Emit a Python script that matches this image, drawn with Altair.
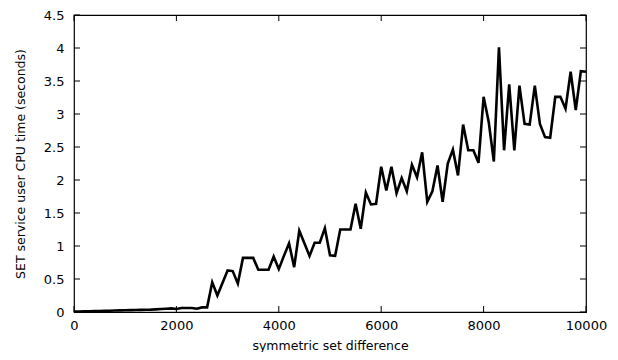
import altair as alt
import pandas as pd

x_vals = list(range(0, 10001, 100))
y_vals = [
    0.005, 0.008, 0.010, 0.012, 0.014, 0.016, 0.018, 0.020, 0.022, 0.024,
    0.026, 0.028, 0.030, 0.032, 0.034, 0.036, 0.040, 0.045, 0.050, 0.055,
    0.045, 0.060, 0.060, 0.060, 0.050, 0.070, 0.070,
    0.45, 0.25, 0.44, 0.63, 0.62, 0.43, 0.82, 0.82, 0.82, 0.64,
    0.64, 0.64, 0.84, 0.65, 0.85, 1.04, 0.68, 1.23, 1.04, 0.85,
    1.05, 1.05, 1.27, 0.86, 0.85, 1.25, 1.25, 1.25, 1.64, 1.26,
    1.81, 1.63, 1.64, 2.20, 1.84, 2.20, 1.80, 2.03, 1.83, 2.23,
    2.04, 2.42, 1.67, 1.83, 2.22, 1.67, 2.25, 2.46, 2.07, 2.84,
    2.45, 2.45, 2.26, 3.26, 2.88, 2.28, 4.01, 2.45, 3.45, 2.45,
    3.43, 2.85, 2.84, 3.43, 2.85, 2.65, 2.64, 3.26, 3.26, 3.08,
    3.64, 3.06, 3.65, 3.64,
]
x_ticks = [0, 2000, 4000, 6000, 8000, 10000]
y_ticks = [0, 0.5, 1, 1.5, 2, 2.5, 3, 3.5, 4, 4.5]

W, H = 512, 297
FONT = "DejaVu Sans"

df = pd.DataFrame({"x": x_vals, "y": y_vals})
xt = pd.DataFrame({"x": x_ticks})
yt = pd.DataFrame({"y": y_ticks})

xscale = alt.Scale(domain=[0, 10000], nice=False, zero=False)
yscale = alt.Scale(domain=[0, 4.5], nice=False, zero=False)
xaxis = alt.Axis(values=x_ticks, title="symmetric set difference", format="d",
                 labelPadding=7, titlePadding=7, labelFlush=False, labelOverlap=False)
yaxis = alt.Axis(values=y_ticks, title="SET service user CPU time (seconds)", format="~g",
                 labelPadding=10, titlePadding=16, labelFlush=False, labelOverlap=False)

line = alt.Chart(df).mark_line(color="black", strokeWidth=2.6, strokeJoin="miter").encode(
    x=alt.X("x:Q", scale=xscale, axis=xaxis),
    y=alt.Y("y:Q", scale=yscale, axis=yaxis),
)

tick_len = 6
bx = alt.Chart(xt).mark_rule(color="black", strokeWidth=1).encode(
    x=alt.X("x:Q", scale=xscale, axis=xaxis), y=alt.value(H), y2=alt.value(H - tick_len))
tx = alt.Chart(xt).mark_rule(color="black", strokeWidth=1).encode(
    x=alt.X("x:Q", scale=xscale, axis=xaxis), y=alt.value(0), y2=alt.value(tick_len))
ly = alt.Chart(yt).mark_rule(color="black", strokeWidth=1).encode(
    y=alt.Y("y:Q", scale=yscale, axis=yaxis), x=alt.value(0), x2=alt.value(tick_len))
ry = alt.Chart(yt).mark_rule(color="black", strokeWidth=1).encode(
    y=alt.Y("y:Q", scale=yscale, axis=yaxis), x=alt.value(W), x2=alt.value(W - tick_len))

chart = alt.layer(line, bx, tx, ly, ry).properties(
    width=W, height=H,
    autosize=alt.AutoSizeParams(type="none"),
    padding={"left": 66, "top": 7, "right": 24, "bottom": 40},
).configure_view(
    stroke="black", strokeWidth=1.2
).configure_axis(
    domain=False, ticks=False, grid=False,
    labelFont=FONT, titleFont=FONT, labelFontSize=13, titleFontSize=12.5,
    labelColor="black", titleColor="black", titleFontWeight="normal",
)

chart.save("out.html", embed_options={"renderer": "svg", "actions": False})
